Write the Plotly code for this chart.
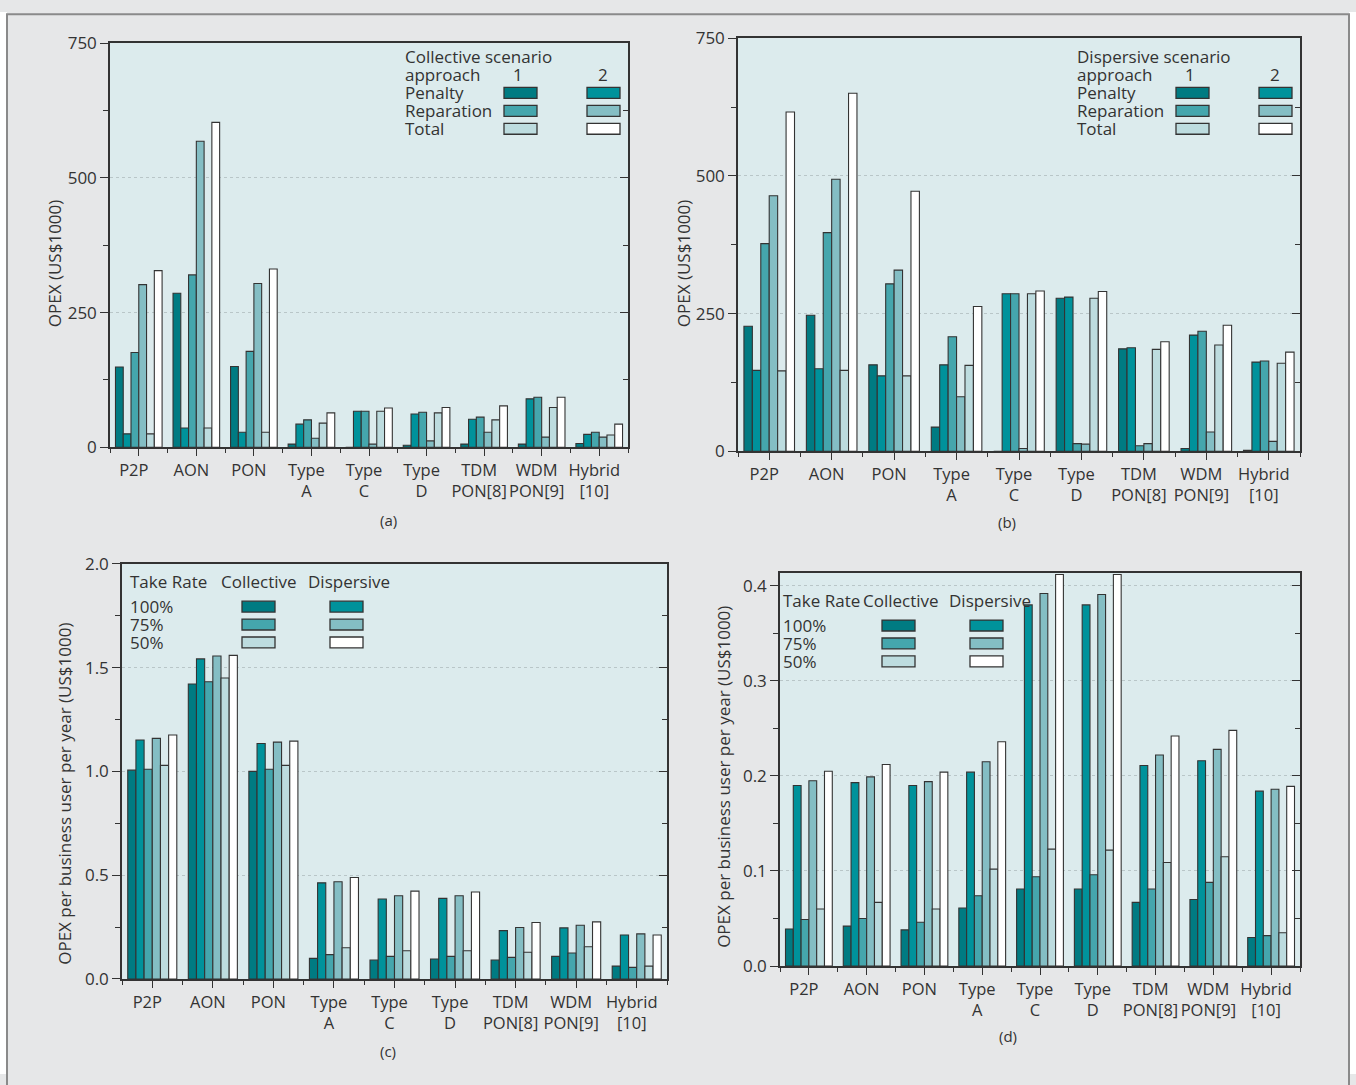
import plotly.graph_objects as go

W, H = 1356, 1085

CATEGORIES = ["P2P", "AON", "PON", "Type<br>A", "Type<br>C", "Type<br>D",
              "TDM<br>PON[8]", "WDM<br>PON[9]", "Hybrid<br>[10]"]

# (a) Collective scenario, OPEX (US$1000)
coll_penalty_1 = [149, 286, 150, 6, 0, 4, 6, 6, 7]
coll_penalty_2 = [25, 36, 28, 43, 67, 62, 52, 90, 24]
coll_reparation_1 = [176, 320, 178, 51, 67, 65, 56, 93, 28]
coll_reparation_2 = [302, 568, 304, 17, 6, 12, 28, 19, 19]
coll_total_1 = [25, 36, 28, 45, 67, 64, 51, 74, 23]
coll_total_2 = [328, 603, 331, 64, 73, 74, 77, 93, 43]

# (b) Dispersive scenario, OPEX (US$1000)
disp_penalty_1 = [227, 247, 157, 44, 0, 278, 186, 5, 2]
disp_penalty_2 = [147, 150, 137, 157, 286, 280, 188, 211, 162]
disp_reparation_1 = [377, 397, 304, 208, 286, 14, 10, 218, 164]
disp_reparation_2 = [464, 494, 329, 99, 5, 13, 14, 35, 18]
disp_total_1 = [146, 147, 137, 156, 286, 278, 185, 193, 160]
disp_total_2 = [616, 650, 472, 263, 291, 290, 199, 229, 180]

# (c) OPEX per business user per year, by take rate
c_coll_100 = [1.006, 1.421, 1.000, 0.099, 0.091, 0.096, 0.091, 0.109, 0.062]
c_disp_100 = [1.151, 1.542, 1.134, 0.463, 0.385, 0.388, 0.233, 0.246, 0.212]
c_coll_75 = [1.010, 1.432, 1.010, 0.117, 0.109, 0.109, 0.104, 0.125, 0.056]
c_disp_75 = [1.159, 1.556, 1.141, 0.468, 0.401, 0.401, 0.248, 0.259, 0.217]
c_coll_50 = [1.029, 1.450, 1.029, 0.150, 0.136, 0.136, 0.129, 0.155, 0.062]
c_disp_50 = [1.175, 1.559, 1.146, 0.489, 0.423, 0.419, 0.272, 0.275, 0.212]

# (d) OPEX per business user per year, by take rate
d_coll_100 = [0.039, 0.042, 0.038, 0.061, 0.081, 0.081, 0.067, 0.070, 0.030]
d_disp_100 = [0.190, 0.193, 0.190, 0.204, 0.380, 0.380, 0.211, 0.216, 0.184]
d_coll_75 = [0.049, 0.050, 0.046, 0.074, 0.094, 0.096, 0.081, 0.088, 0.032]
d_disp_75 = [0.195, 0.199, 0.194, 0.215, 0.392, 0.391, 0.222, 0.228, 0.186]
d_coll_50 = [0.060, 0.067, 0.060, 0.102, 0.123, 0.122, 0.109, 0.115, 0.035]
d_disp_50 = [0.205, 0.212, 0.204, 0.236, 0.412, 0.412, 0.242, 0.248, 0.189]

COLORS = ["#007b82", "#00929b", "#45a6ad", "#84bec4", "#bddcdf", "#ffffff"]
PLOT_BG = "#dcebed"
PAPER_BG = "#e6e7e8"
INK = "#333333"
GRID = "#b9c6c8"
FONT = "Open Sans"
FS = 17
FS_TICK_X = 16.5

# the page is shown slightly squeezed vertically with a small top offset;
# these two numbers map a target pixel row onto the paper
Y_OFF, Y_SCALE = 9.7, 0.9832


def px(x):
    return x / W


def py(y):
    return 1 - ((y - Y_OFF) / Y_SCALE) / H


panels = [
    dict(series=[coll_penalty_1, coll_penalty_2, coll_reparation_1,
                 coll_reparation_2, coll_total_1, coll_total_2],
         names=["Penalty 1", "Penalty 2", "Reparation 1", "Reparation 2",
                "Total 1", "Total 2"],
         box=(110, 628, 41, 447), yrange=[0, 750], dtick=250, minor=125,
         fmt="d", title="OPEX (US$1000)", title_xy=(54, 263),
         caption="(a)", caption_xy=(388, 520)),
    dict(series=[disp_penalty_1, disp_penalty_2, disp_reparation_1,
                 disp_reparation_2, disp_total_1, disp_total_2],
         names=["Penalty 1", "Penalty 2", "Reparation 1", "Reparation 2",
                "Total 1", "Total 2"],
         box=(738, 1300, 36, 451), yrange=[0, 750], dtick=250, minor=125,
         fmt="d", title="OPEX (US$1000)", title_xy=(683, 263),
         caption="(b)", caption_xy=(1007, 522)),
    dict(series=[c_coll_100, c_disp_100, c_coll_75, c_disp_75,
                 c_coll_50, c_disp_50],
         names=["Collective 100%", "Dispersive 100%", "Collective 75%",
                "Dispersive 75%", "Collective 50%", "Dispersive 50%"],
         box=(122, 667, 564, 981), yrange=[0, 2.0], dtick=0.5, minor=0.25,
         fmt=".1f", title="OPEX per business user per year (US$1000)",
         title_xy=(65, 795), caption="(c)", caption_xy=(388, 1053)),
    dict(series=[d_coll_100, d_disp_100, d_coll_75, d_disp_75,
                 d_coll_50, d_disp_50],
         names=["Collective 100%", "Dispersive 100%", "Collective 75%",
                "Dispersive 75%", "Collective 50%", "Dispersive 50%"],
         box=(780, 1300, 573, 968), yrange=[0, 0.4138], dtick=0.1, minor=0.05,
         fmt=".1f", title="OPEX per business user per year (US$1000)",
         title_xy=(724, 778), caption="(d)", caption_xy=(1008, 1038)),
]

xs = list(range(len(CATEGORIES)))
fig = go.Figure()
layout = dict(
    width=W, height=H, margin=dict(l=0, r=0, t=0, b=0),
    paper_bgcolor=PAPER_BG, plot_bgcolor=PLOT_BG,
    barmode="group", bargap=0.19, bargroupgap=0.0,
    showlegend=False, font=dict(family=FONT, size=FS, color=INK),
)
annotations = []
shapes = []

for i, p in enumerate(panels, start=1):
    x0, x1, y0, y1 = p["box"]
    for k, (vals, name) in enumerate(zip(p["series"], p["names"])):
        fig.add_trace(go.Bar(
            x=xs, y=vals, name=name, xaxis=f"x{i}", yaxis=f"y{i}",
            marker=dict(color=COLORS[k], line=dict(color=INK, width=1.1)),
        ))
    # empty trace so the right-hand tick axis is rendered
    fig.add_trace(go.Scatter(x=[None], y=[None], xaxis=f"x{i}",
                             yaxis=f"y{i + 4}", hoverinfo="skip",
                             showlegend=False))

    layout[f"xaxis{i}"] = dict(
        domain=[px(x0), px(x1)], anchor=f"y{i}", range=[-0.5, len(xs) - 0.5],
        tickmode="array", tickvals=xs, ticktext=CATEGORIES, tickangle=0,
        ticks="outside", ticklen=7, tickwidth=1.3, tickcolor=INK,
        showline=True, linecolor=INK, linewidth=1.5, mirror=True,
        showgrid=False, zeroline=False, ticklabelshift=-5,
        tickfont=dict(size=FS_TICK_X, color=INK),
        minor=dict(tickmode="array",
                   tickvals=[v - 0.5 for v in xs] + [xs[-1] + 0.5],
                   ticks="outside", ticklen=4, tickwidth=1.3,
                   tickcolor=INK, showgrid=False),
    )
    layout[f"yaxis{i}"] = dict(
        domain=[py(y1), py(y0)], anchor=f"x{i}", range=p["yrange"],
        tick0=0, dtick=p["dtick"], tickformat=p["fmt"],
        ticks="outside", ticklen=8, tickwidth=1.3, tickcolor=INK,
        showline=True, linecolor=INK, linewidth=1.5, mirror=True,
        showgrid=True, gridcolor=GRID, gridwidth=1, griddash="dot",
        zeroline=False, tickfont=dict(size=FS, color=INK),
        minor=dict(tick0=0, dtick=p["minor"], ticks="outside", ticklen=5,
                   tickwidth=1.3, tickcolor=INK, showgrid=False),
    )
    layout[f"yaxis{i + 4}"] = dict(
        overlaying=f"y{i}", anchor=f"x{i}", side="right", range=p["yrange"],
        tick0=0, dtick=p["dtick"], ticks="inside", ticklen=8, tickwidth=1.3,
        tickcolor=INK, showticklabels=False, showline=False,
        showgrid=False, zeroline=False,
        minor=dict(tick0=0, dtick=p["minor"], ticks="inside", ticklen=5,
                   tickwidth=1.3, tickcolor=INK, showgrid=False),
    )

    tx, ty = p["title_xy"]
    annotations.append(dict(text=p["title"], x=px(tx), y=py(ty),
                            xref="paper", yref="paper", showarrow=False,
                            textangle=-90, font=dict(size=FS, color=INK),
                            xanchor="center", yanchor="middle"))
    cx, cy = p["caption_xy"]
    annotations.append(dict(text=p["caption"], x=px(cx), y=py(cy),
                            xref="paper", yref="paper", showarrow=False,
                            font=dict(size=15, color=INK),
                            xanchor="center", yanchor="middle"))


def label(text, x, y, anchor="left", size=FS):
    annotations.append(dict(text=text, x=px(x), y=py(y), xref="paper",
                            yref="paper", showarrow=False, xanchor=anchor,
                            yanchor="middle", borderpad=0,
                            font=dict(size=size, color=INK)))


def swatch(xa, xb, yc, color):
    shapes.append(dict(type="rect", xref="paper", yref="paper",
                       x0=px(xa), x1=px(xb), y0=py(yc + 5.5), y1=py(yc - 5.5),
                       fillcolor=color, line=dict(color=INK, width=1.3)))


# Legends for (a) and (b): two approaches x three cost items
for head, lx, c1, c2 in [("Collective scenario", 404, (504, 537), (587, 620)),
                         ("Dispersive scenario", 1076, (1176, 1209), (1259, 1292))]:
    label(head, lx, 54)
    label("approach", lx, 72)
    label("1", (c1[0] + c1[1]) / 2 - 3, 72, anchor="center")
    label("2", (c2[0] + c2[1]) / 2 - 1, 72, anchor="center")
    for r, item in enumerate(["Penalty", "Reparation", "Total"]):
        yc = 90.5 + 18 * r
        label(item, lx, yc)
        swatch(c1[0], c1[1], yc + 0.5, COLORS[2 * r])
        swatch(c2[0], c2[1], yc + 0.5, COLORS[2 * r + 1])

# Legends for (c) and (d): take rates x scenarios
for lx, ly, colx, c1, c2 in [(129, 582, (220, 307), (242, 275), (330, 363)),
                             (782, 601, (862, 948), (882, 915), (970, 1003))]:
    label("Take Rate", lx, ly)
    label("Collective", colx[0], ly)
    label("Dispersive", colx[1], ly)
    for r, item in enumerate(["100%", "75%", "50%"]):
        yc = ly + 25 + 18 * r
        label(item, lx, yc)
        swatch(c1[0], c1[1], yc, COLORS[2 * r])
        swatch(c2[0], c2[1], yc, COLORS[2 * r + 1])

# Outer frame of the figure
shapes += [
    dict(type="rect", xref="paper", yref="paper", x0=0, x1=px(7), y0=0, y1=1,
         fillcolor="#ffffff", line=dict(width=0), layer="below"),
    dict(type="rect", xref="paper", yref="paper", x0=px(1349), x1=1, y0=0, y1=1,
         fillcolor="#ffffff", line=dict(width=0), layer="below"),
    dict(type="rect", xref="paper", yref="paper", x0=px(7), x1=px(1349),
         y0=-0.02, y1=py(12), line=dict(color="#8a8a8a", width=2)),
]

layout["annotations"] = annotations
layout["shapes"] = shapes
fig.update_layout(**layout)
fig.write_html("out.html")
